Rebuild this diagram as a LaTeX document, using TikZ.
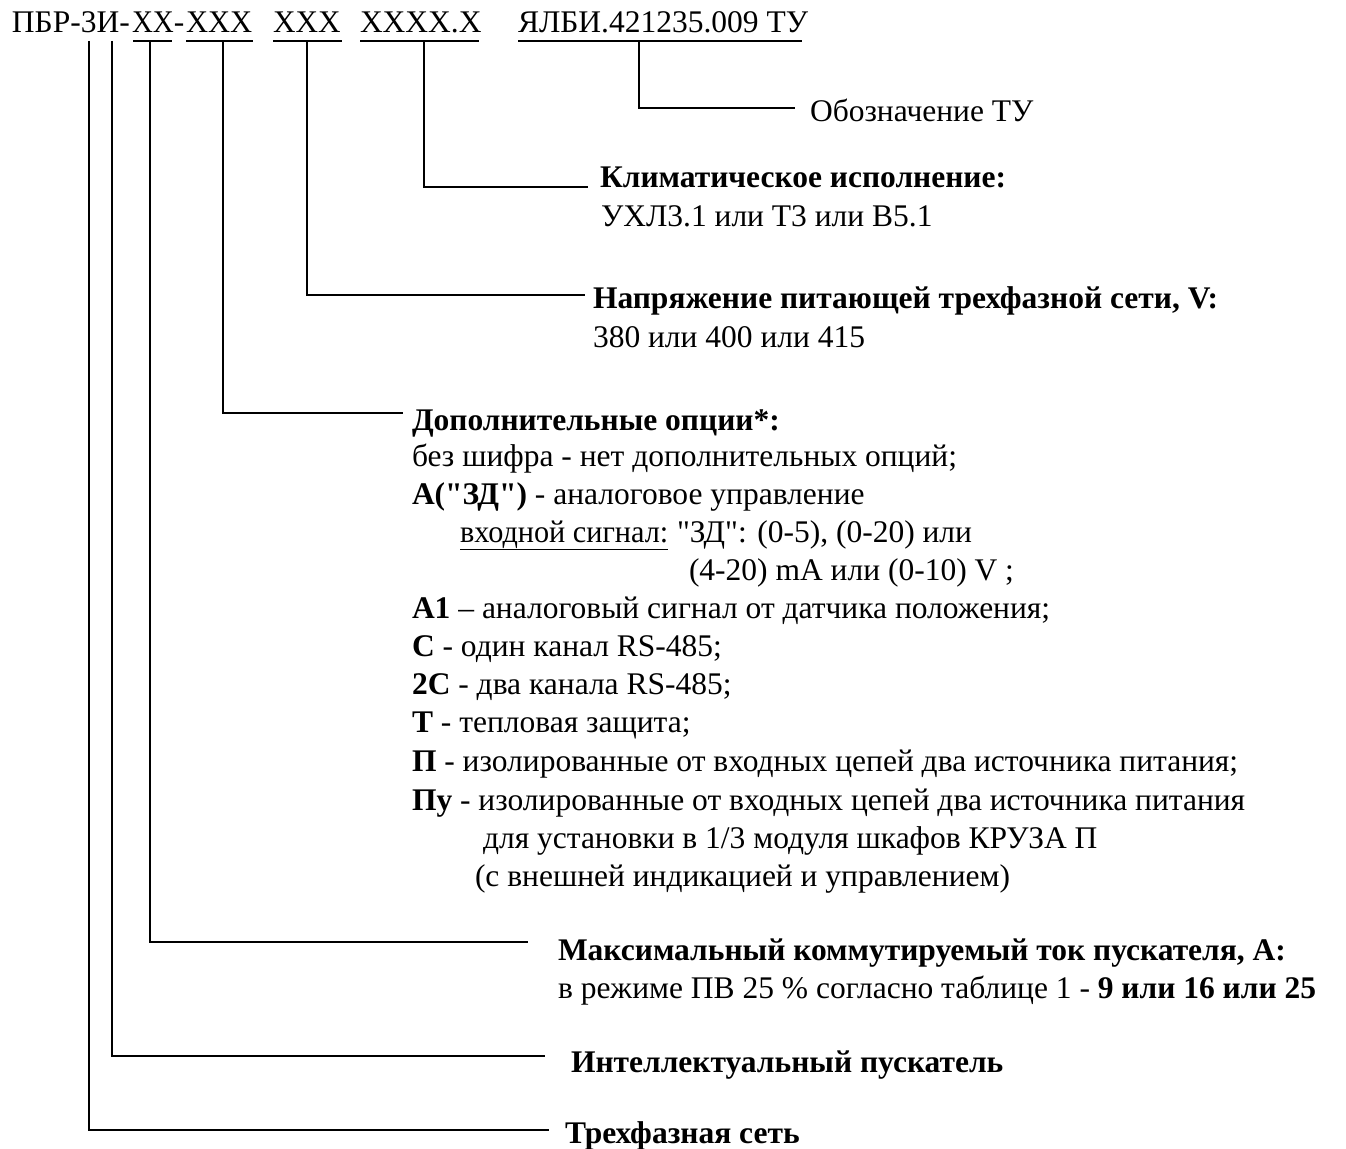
\documentclass[tikz,border=0pt]{standalone}
\usepackage{fontspec}
\setmainfont{Liberation Serif}[Ligatures=TeXOff]
\begin{document}
\begin{tikzpicture}[x=1pt,y=-1pt,
  txt/.style={anchor=base west,inner sep=0pt,outer sep=0pt,font=\fontsize{31.5}{38}\selectfont},
  btxt/.style={txt,font=\fontsize{31.5}{38}\selectfont\bfseries},
  uline/.style={line width=1.5pt},
  conn/.style={line width=1.6pt}]
\useasboundingbox (0,0) rectangle (1346,1148);
% ---- top designation line ----
\node[txt] (t0) at (12,33) {ПБР-3И-};
\node[txt] (t1) at (132,33) {\scalebox{0.92}[1]{XX}};
\node[txt] (t1d) at (t1.base east) {-};
\node[txt] (t2) at (186,33) {\scalebox{0.97}[1]{XXX}};
\node[txt] (t3) at (273,33) {\scalebox{0.99}[1]{XXX}};
\node[txt] (t4) at (360,33) {\scalebox{1.0}[1]{XXXX.X}};
\node[txt] (t5) at (518,33) {ЯЛБИ.421235.009 ТУ};
% underlines
\coordinate (u1a) at (133,41); \coordinate (u1b) at (172,41);
\coordinate (u2a) at (186,41); \coordinate (u2b) at (253,41);
\coordinate (u3a) at (273,41); \coordinate (u3b) at (342,41);
\coordinate (u4a) at (360,41); \coordinate (u4b) at (479,41);
\coordinate (u5a) at (518,41); \coordinate (u5b) at (802,41);
\foreach \k in {1,...,5}{\draw[uline] (u\k a) -- (u\k b);}
% ---- descriptions ----
\node[txt] (d1) at (810,121) {Обозначение ТУ};
\node[btxt] (d2) at (600,187) {Климатическое исполнение:};
\node[txt] (d2b) at (601,226) {УХЛ3.1 или Т3 или В5.1};
\node[btxt] (d3) at (593,308) {Напряжение питающей трехфазной сети, V:};
\node[txt] (d3b) at (593,347) {380 или 400 или 415};
\node[btxt] (d4) at (412,430) {Дополнительные опции*:};
\node[txt] (d4a) at (412,466) {без шифра - нет дополнительных опций;};
\node[txt] (d4b) at (412,504) {\textbf{А("ЗД")} - аналоговое управление};
\node[txt] (d4c) at (460,542) {\underline{\scalebox{0.96}[1]{входной сигнал:}}};
\node[txt] (d4d) at (677,542) {"ЗД": (0-5), (0-20) или};
\node[txt] (d4e) at (689,580) {(4-20) mA или (0-10) V ;};
\node[txt] (d4f) at (412,618) {\textbf{А1} – аналоговый сигнал от датчика положения;};
\node[txt] (d4g) at (412,656) {\textbf{С} - один канал RS-485;};
\node[txt] (d4h) at (412,694) {\textbf{2С} - два канала RS-485;};
\node[txt] (d4i) at (412,732) {\textbf{Т} - тепловая защита;};
\node[txt] (d4j) at (412,771) {\textbf{П} - изолированные от входных цепей два источника питания;};
\node[txt] (d4k) at (412,810) {\textbf{Пу} - изолированные от входных цепей два источника питания};
\node[txt] (d4l) at (483,848) {для установки в 1/3 модуля шкафов КРУЗА П};
\node[txt] (d4m) at (475,886) {(с внешней индикацией и управлением)};
\node[btxt] (d5) at (558,960) {Максимальный коммутируемый ток пускателя, А:};
\node[txt] (d5b) at (558,998) {в режиме ПВ 25 \% согласно таблице 1 - \textbf{9 или 16 или 25}};
\node[btxt] (d6) at (571,1072) {Интеллектуальный пускатель};
\node[btxt] (d7) at (565,1143) {Трехфазная сеть};
% ---- connectors ----
\coordinate (v1) at (639,41);  \coordinate (e1) at (795,108);
\coordinate (v2) at (424,41);  \coordinate (e2) at (588,187);
\coordinate (v3) at (307,41);  \coordinate (e3) at (585,295);
\coordinate (v4) at (223,41);  \coordinate (e4) at (403,413);
\coordinate (v5) at (150,41);  \coordinate (e5) at (528,942);
\coordinate (v6) at (112,41);  \coordinate (e6) at (545,1056);
\coordinate (v7) at (89,41);   \coordinate (e7) at (549,1130);
\foreach \k in {1,...,7}{\draw[conn] (v\k) |- (e\k);}
\end{tikzpicture}
\end{document}
